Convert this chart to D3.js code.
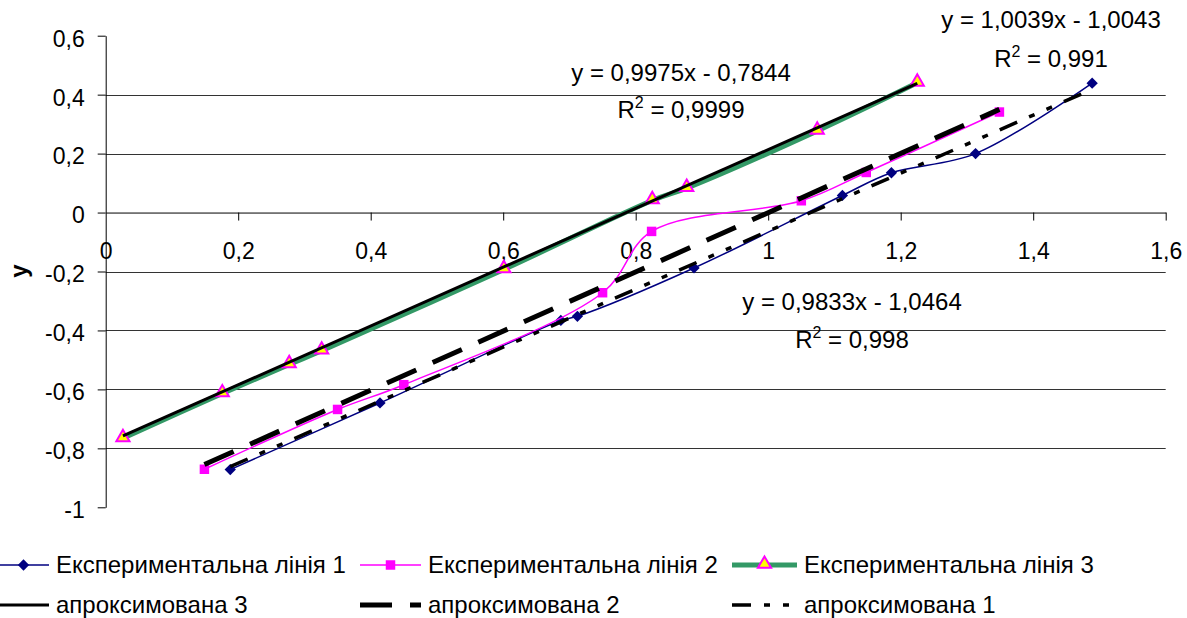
<!DOCTYPE html>
<html>
<head>
<meta charset="utf-8">
<script src="https://cdn.jsdelivr.net/npm/d3@7"></script>
<style>
  body { margin: 0; background: #fff; }
  text { font-family: "Liberation Sans", Arial, sans-serif; }
</style>
</head>
<body>
<svg width="1187" height="618"></svg>
<script>
// values
var line1 = [[0.188,-0.872],[0.414,-0.646],[0.687,-0.366],[0.712,-0.352],[0.888,-0.188],
             [1.112,0.058],[1.186,0.135],[1.313,0.200],[1.489,0.439]];
var line2 = [[0.149,-0.871],[0.350,-0.668],[0.450,-0.584],[0.750,-0.272],[0.824,-0.064],
             [1.050,0.040],[1.148,0.136],[1.349,0.341]];
var line3 = [[0.026,-0.766],[0.176,-0.614],[0.277,-0.515],[0.326,-0.469],[0.601,-0.193],
             [0.825,0.041],[0.877,0.083],[1.074,0.277],[1.225,0.440]];
var approx3 = [[0.026,-0.758],[1.225,0.438]];
var approx2 = [[0.149,-0.855],[1.349,0.350]];
var approx1 = [[0.188,-0.862],[1.489,0.418]];

var xTicks = [0,0.2,0.4,0.6,0.8,1,1.2,1.4,1.6];
var xTickLabels = ["0","0,2","0,4","0,6","0,8","1","1,2","1,4","1,6"];
var yTicks = [-1,-0.8,-0.6,-0.4,-0.2,0,0.2,0.4,0.6];
var yTickLabels = ["-1","-0,8","-0,6","-0,4","-0,2","0","0,2","0,4","0,6"];
var gridValues = [-0.8,-0.6,-0.4,-0.2,0.2,0.4];

var legendNames = ["Експериментальна лінія 1","Експериментальна лінія 2","Експериментальна лінія 3",
                   "апроксимована 3","апроксимована 2","апроксимована 1"];

var svg = d3.select("svg");

var x = d3.scaleLinear().domain([0,1.6]).range([105.7,1165.7]);
var y = d3.scaleLinear().domain([-1,0.6]).range([507.3,35.7]);

// gridlines
svg.append("g").selectAll("line")
    .data(gridValues)
    .enter().append("line")
    .attr("x1", x(0)).attr("x2", x(1.6))
    .attr("y1", function(d) { return Math.round(y(d)) + 0.5; })
    .attr("y2", function(d) { return Math.round(y(d)) + 0.5; })
    .attr("stroke", "#333")
    .attr("stroke-width", 1);

// axes
var yAxis = svg.append("g")
    .attr("transform", "translate(" + x(0) + ",0)")
    .call(d3.axisLeft(y).tickValues(yTicks)
      .tickFormat(function(d, i) { return yTickLabels[i]; })
      .tickSize(8).tickSizeOuter(0).tickPadding(13));

var xAxis = svg.append("g")
    .attr("transform", "translate(0," + y(0) + ")")
    .call(d3.axisBottom(x).tickValues(xTicks)
      .tickFormat(function(d, i) { return xTickLabels[i]; })
      .tickSize(8).tickSizeOuter(0).tickPadding(22));

svg.selectAll(".tick text").attr("font-size", 23).attr("fill", "#000")
    .style("font-family", "'Liberation Sans', Arial, sans-serif");
yAxis.selectAll(".tick text").attr("dy", "0.45em");
svg.selectAll(".domain, .tick line").attr("stroke", "#000");
xAxis.select(".tick").select("line").remove();

svg.append("text")
    .attr("transform", "translate(27,271) rotate(-90)")
    .attr("text-anchor", "middle")
    .attr("font-size", 24)
    .attr("font-weight", "bold")
    .text("y");

var smooth = d3.line().x(function(d) { return x(d[0]); }).y(function(d) { return y(d[1]); })
    .curve(d3.curveCatmullRom.alpha(0.5));
var straight = d3.line().x(function(d) { return x(d[0]); }).y(function(d) { return y(d[1]); });

var diamond = d3.symbol().type(d3.symbolSquare).size(64);
var square = d3.symbol().type(d3.symbolSquare).size(90);
var triangle = d3.symbol().type(d3.symbolTriangle).size(75);

var styles = [
  { data: line1, gen: smooth, color: "#000080", width: 1.5, dash: null },
  { data: line2, gen: smooth, color: "#FF00FF", width: 1.5, dash: null },
  { data: line3, gen: smooth, color: "#339966", width: 5, dash: null },
  { data: approx3, gen: straight, color: "#000", width: 3, dash: null },
  { data: approx2, gen: straight, color: "#000", width: 5, dash: "32,18" },
  { data: approx1, gen: straight, color: "#000", width: 3.5, dash: "19,13,6,13,6,13" }
];

function drawMarker(sel, k, cx, cy) {
  if (k === 0) {
    sel.attr("d", diamond).attr("fill", "#000080")
       .attr("transform", "translate(" + cx + "," + cy + ") rotate(45)");
  } else if (k === 1) {
    sel.attr("d", square).attr("fill", "#FF00FF")
       .attr("transform", "translate(" + cx + "," + cy + ")");
  } else if (k === 2) {
    sel.attr("d", triangle).attr("fill", "#FFFF00").attr("stroke", "#FF00FF").attr("stroke-width", 2)
       .attr("transform", "translate(" + cx + "," + (cy - 1) + ")");
  }
}

styles.forEach(function(s, k) {
  var g = svg.append("g");
  g.append("path")
    .attr("d", s.gen(s.data))
    .attr("fill", "none")
    .attr("stroke", s.color)
    .attr("stroke-width", s.width)
    .attr("stroke-dasharray", s.dash);
  if (k < 3) {
    g.selectAll("path.m").data(s.data).enter().append("path").attr("class", "m")
      .each(function(d) { drawMarker(d3.select(this), k, x(d[0]), y(d[1])); });
  }
});

// trendline labels
var eqs = [
  { cx: 681, y1: 81, y2: 118, eq: "y = 0,9975x - 0,7844", r: "0,9999" },
  { cx: 1051, y1: 28, y2: 67, eq: "y = 1,0039x - 1,0043", r: "0,991" },
  { cx: 852, y1: 310, y2: 348, eq: "y = 0,9833x - 1,0464", r: "0,998" }
];
eqs.forEach(function(e) {
  svg.append("text").attr("x", e.cx).attr("y", e.y1).attr("text-anchor", "middle")
     .attr("font-size", 24).text(e.eq);
  var t = svg.append("text").attr("x", e.cx).attr("y", e.y2).attr("text-anchor", "middle")
     .attr("font-size", 24);
  t.append("tspan").text("R");
  t.append("tspan").attr("dy", -10).attr("font-size", 16).text("2");
  t.append("tspan").attr("dy", 10).text(" = " + e.r);
});

// legend
var legX = [[-2, 49], [360, 421], [732, 797]];
var legY = [565, 605];
legendNames.forEach(function(name, i) {
  var col = i % 3, row = Math.floor(i / 3);
  var s = styles[i];
  var x0 = legX[col][0], x1 = legX[col][1], yy = legY[row];
  var g = svg.append("g");
  g.append("line").attr("x1", x0).attr("x2", x1).attr("y1", yy).attr("y2", yy)
    .attr("stroke", s.color).attr("stroke-width", s.width).attr("stroke-dasharray", s.dash);
  if (i < 3) drawMarker(g.append("path"), i, (x0 + x1) / 2, yy);
  g.append("text").attr("x", x1 + 7).attr("y", yy + 8).attr("font-size", 24).text(name);
});
</script>
</body>
</html>
